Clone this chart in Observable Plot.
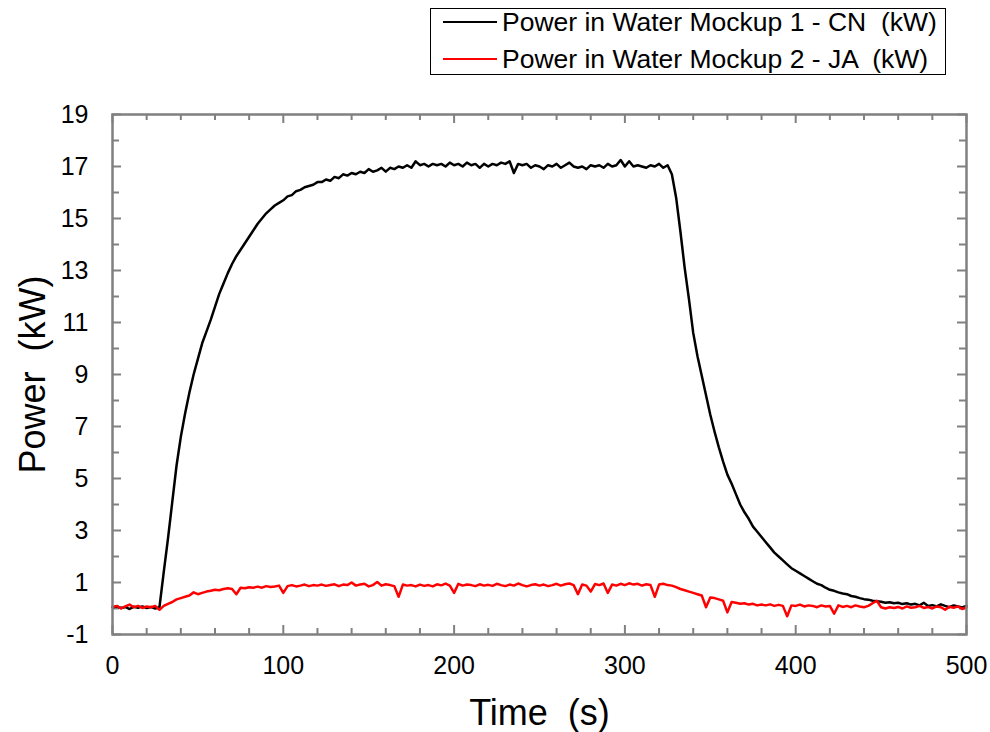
<!DOCTYPE html>
<html>
<head>
<meta charset="utf-8">
<script src="https://cdn.jsdelivr.net/npm/d3@7"></script>
<script src="https://cdn.jsdelivr.net/npm/@observablehq/plot@0.6"></script>
<style>
  html, body { margin: 0; padding: 0; background: #fff; }
  body { width: 990px; height: 732px; position: relative; overflow: hidden; font-family: "Liberation Sans", Arial, sans-serif; }
  #chart { position: absolute; left: 0; top: 0; }
  #chart svg text { white-space: pre; }
  #legend { position: absolute; left: 430px; top: 8px; width: 514px; height: 65px; border: 1px solid #000; background: #fff; }
  .row { position: absolute; left: 0; height: 30px; line-height: 30px; font-size: 26.5px; color: #000; white-space: pre; display: flex; align-items: center; }
  .sw { display: inline-block; width: 54px; height: 2px; margin-left: 12px; margin-right: 5px; }
</style>
</head>
<body>
<div id="chart"></div>
<div id="legend"></div>
<script>
// ---- data ----
const time = [
  0,2.5,5,7.5,10,12.5,15,17.5,20,22.5,
  25,27.5,30,32.5,35,37.5,40,42.5,45,47.5,
  50,52.5,55,57.5,60,62.5,65,67.5,70,72.5,
  75,77.5,80,82.5,85,87.5,90,92.5,95,97.5,
  100,102.5,105,107.5,110,112.5,115,117.5,120,122.5,
  125,127.5,130,132.5,135,137.5,140,142.5,145,147.5,
  150,152.5,155,157.5,160,162.5,165,167.5,170,172.5,
  175,177.5,180,182.5,185,187.5,190,192.5,195,197.5,
  200,202.5,205,207.5,210,212.5,215,217.5,220,222.5,
  225,227.5,230,232.5,235,237.5,240,242.5,245,247.5,
  250,252.5,255,257.5,260,262.5,265,267.5,270,272.5,
  275,277.5,280,282.5,285,287.5,290,292.5,295,297.5,
  300,302.5,305,307.5,310,312.5,315,317.5,320,322.5,
  325,327.5,330,332.5,335,337.5,340,342.5,345,347.5,
  350,352.5,355,357.5,360,362.5,365,367.5,370,372.5,
  375,377.5,380,382.5,385,387.5,390,392.5,395,397.5,
  400,402.5,405,407.5,410,412.5,415,417.5,420,422.5,
  425,427.5,430,432.5,435,437.5,440,442.5,445,447.5,
  450,452.5,455,457.5,460,462.5,465,467.5,470,472.5,
  475,477.5,480,482.5,485,487.5,490,492.5,495,497.5,
  500
];
const powerCN = [
  0.05,0.08,0.02,0.06,-0.02,0.07,0.03,0.08,0.02,0.06,
  0.0,0.05,1.4,2.7,4.1,5.5,6.6,7.5,8.3,9.0,
  9.6,10.2,10.65,11.1,11.6,12.1,12.5,12.9,13.25,13.55,
  13.8,14.05,14.3,14.55,14.8,15.0,15.2,15.35,15.5,15.6,
  15.7,15.85,15.9,16.05,16.1,16.2,16.25,16.3,16.4,16.4,
  16.5,16.45,16.6,16.55,16.7,16.65,16.75,16.7,16.8,16.75,
  16.9,16.8,16.85,16.95,16.8,16.95,16.9,17.0,16.95,17.05,
  16.95,17.2,17.05,17.1,17.0,17.1,17.05,17.1,17.0,17.15,
  17.05,17.1,17.0,17.15,17.05,17.1,16.95,17.1,17.0,17.1,
  17.05,17.15,17.1,17.2,16.75,17.1,17.05,17.1,16.95,17.05,
  17.0,16.9,17.05,17.0,17.1,16.95,17.05,17.15,17.0,16.95,
  17.0,16.9,17.05,17.0,17.05,16.95,17.1,17.0,17.05,17.25,
  17.0,17.2,17.0,17.05,17.0,16.95,17.05,17.0,17.1,16.95,
  17.05,16.7,15.8,14.5,13.1,11.9,10.6,9.7,8.95,8.2,
  7.45,6.8,6.2,5.65,5.15,4.8,4.4,4.0,3.7,3.45,
  3.15,2.95,2.75,2.55,2.35,2.15,2.0,1.85,1.7,1.55,
  1.45,1.35,1.25,1.15,1.05,0.95,0.9,0.8,0.72,0.68,
  0.62,0.58,0.55,0.48,0.45,0.4,0.36,0.34,0.3,0.28,
  0.26,0.22,0.24,0.2,0.22,0.17,0.2,0.15,0.18,0.12,
  0.22,0.1,0.13,0.08,0.16,0.1,0.05,0.12,0.08,0.04,
  0.1
];
const powerJA = [
  0.05,0.1,0.0,0.08,0.15,0.05,0.1,0.02,0.08,0.05,
  0.1,-0.05,0.1,0.18,0.25,0.35,0.4,0.45,0.5,0.62,
  0.55,0.6,0.65,0.68,0.72,0.7,0.75,0.78,0.75,0.55,
  0.8,0.78,0.82,0.8,0.84,0.8,0.86,0.83,0.85,0.88,
  0.6,0.86,0.9,0.85,0.88,0.92,0.86,0.9,0.88,0.92,
  0.87,0.9,0.93,0.86,0.92,0.9,1.0,0.88,0.92,0.95,
  0.85,0.9,1.02,0.88,0.93,0.9,0.86,0.45,0.92,0.88,
  0.9,0.85,0.92,0.87,0.9,0.85,0.93,0.89,0.96,0.88,
  0.6,0.95,0.88,0.92,0.9,0.86,0.93,0.88,0.91,0.87,
  0.95,0.9,0.86,0.92,0.88,0.96,0.9,0.85,0.9,0.93,
  0.88,0.92,0.86,0.9,0.95,0.88,0.93,0.96,0.9,0.55,
  0.92,0.88,0.65,0.94,0.9,0.96,0.6,0.92,0.88,0.95,
  0.9,0.97,0.92,0.95,0.88,0.93,0.9,0.45,0.92,0.95,
  0.9,0.88,0.82,0.75,0.7,0.65,0.6,0.55,0.5,0.05,
  0.42,0.4,0.35,0.3,-0.15,0.25,0.22,0.18,0.2,0.15,
  0.18,0.12,0.15,0.12,0.16,0.1,0.14,0.1,-0.3,0.12,
  0.1,0.15,0.08,0.12,0.1,0.05,0.12,0.08,0.1,-0.2,
  0.12,0.06,0.1,0.05,0.12,0.08,0.05,0.1,0.2,0.3,
  0.05,0.0,0.05,0.02,0.06,0.0,0.08,0.03,0.05,0.1,
  0.02,0.06,0.0,0.08,0.05,-0.05,0.07,0.03,0.08,-0.02,
  0.05
];
const seriesNames = ["Power in Water Mockup 1 - CN  (kW)", "Power in Water Mockup 2 - JA  (kW)"];
const seriesColors = ["#000000", "#ff0000"];
const xTickLabels = [0, 100, 200, 300, 400, 500];
const xMinorTicks = [20,40,60,80,120,140,160,180,220,240,260,280,320,340,360,380,420,440,460,480];
const yTickLabels = [-1, 1, 3, 5, 7, 9, 11, 13, 15, 17, 19];
const yMinorTicks = [0, 2, 4, 6, 8, 10, 12, 14, 16, 18];
const xTitle = "Time  (s)";
const yTitle = "Power  (kW)";

// ---- layout ----
const W = 990, H = 732, mL = 112, mR = 24, mT = 114, mB = 98;
const plotW = W - mL - mR, plotH = H - mT - mB;
const gray = "#808080";
const font = "'Liberation Sans', Arial, sans-serif";

const cn = time.map((t, i) => ({t, v: powerCN[i]}));
const ja = time.map((t, i) => ({t, v: powerJA[i]}));

const chart = Plot.plot({
  width: W, height: H,
  marginLeft: mL, marginRight: mR, marginTop: mT, marginBottom: mB,
  style: {fontFamily: font, color: "#000", background: "#fff"},
  x: {domain: [0, 500]},
  y: {domain: [-1, 19]},
  marks: [
    // inward ticks
    Plot.tickX(xMinorTicks, {x: d => d, stroke: gray, strokeWidth: 2, insetTop: plotH - 6}),
    Plot.tickX(xMinorTicks, {x: d => d, stroke: gray, strokeWidth: 2, insetBottom: plotH - 6}),
    Plot.tickX(xTickLabels, {x: d => d, stroke: gray, strokeWidth: 2, insetTop: plotH - 9}),
    Plot.tickX(xTickLabels, {x: d => d, stroke: gray, strokeWidth: 2, insetBottom: plotH - 9}),
    Plot.tickY(yMinorTicks, {y: d => d, stroke: gray, strokeWidth: 2, insetRight: plotW - 7}),
    Plot.tickY(yMinorTicks, {y: d => d, stroke: gray, strokeWidth: 2, insetLeft: plotW - 7}),
    Plot.tickY(yTickLabels, {y: d => d, stroke: gray, strokeWidth: 2, insetRight: plotW - 9}),
    Plot.tickY(yTickLabels, {y: d => d, stroke: gray, strokeWidth: 2, insetLeft: plotW - 9}),
    Plot.axisX(xTickLabels, {tickSize: 0, tickPadding: 22, fontSize: 25, label: null, fill: "#000", tickFormat: d => String(d)}),
    Plot.axisY(yTickLabels, {tickSize: 0, tickPadding: 24, fontSize: 25, label: null, fill: "#000", tickFormat: d => String(d)}),
    Plot.line(cn, {x: "t", y: "v", stroke: seriesColors[0], strokeWidth: 2.5, strokeLinejoin: "round"}),
    Plot.line(ja, {x: "t", y: "v", stroke: seriesColors[1], strokeWidth: 2.5, strokeLinejoin: "round"}),
    Plot.frame({stroke: gray, strokeWidth: 2.5}),
    Plot.text([xTitle], {frameAnchor: "bottom", textAnchor: "middle", lineAnchor: "middle", dy: 79, fontSize: 36, fill: "#000"}),
    Plot.text([yTitle], {frameAnchor: "left", textAnchor: "middle", lineAnchor: "middle", dx: -79, rotate: -90, fontSize: 36, fill: "#000"})
  ]
});
document.getElementById("chart").appendChild(chart);

// ---- legend ----
const legend = document.getElementById("legend");
seriesNames.forEach((name, i) => {
  const row = document.createElement("div");
  row.className = "row";
  row.style.top = (i === 0 ? -2 : 35) + "px";
  const sw = document.createElement("span");
  sw.className = "sw";
  sw.style.background = seriesColors[i];
  const tx = document.createElement("span");
  tx.textContent = name;
  row.appendChild(sw);
  row.appendChild(tx);
  legend.appendChild(row);
});
</script>
</body>
</html>
